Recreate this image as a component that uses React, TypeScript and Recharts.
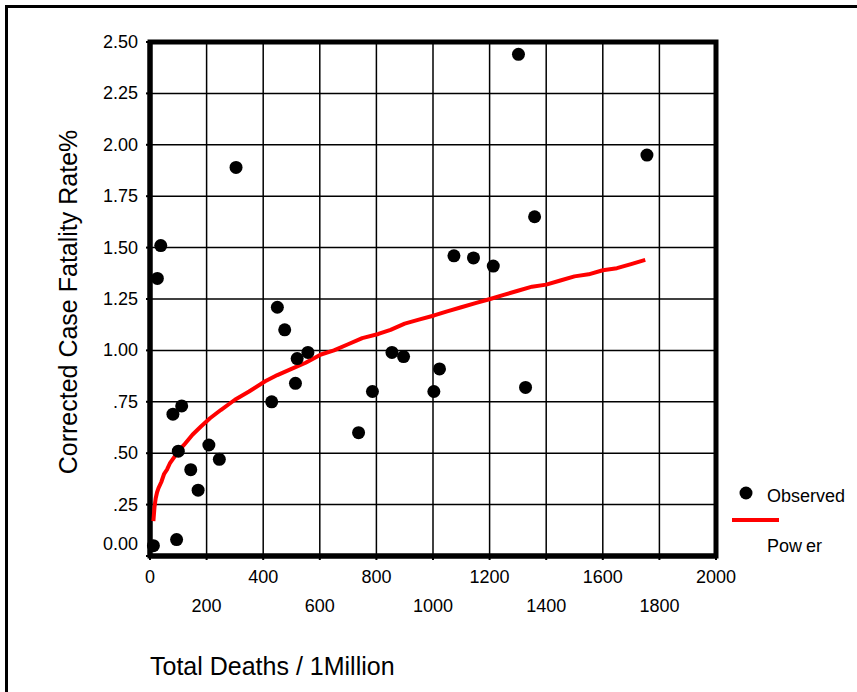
import {
  ScatterChart,
  Scatter,
  XAxis,
  YAxis,
  CartesianGrid,
  ReferenceArea,
} from "recharts";

// observed countries: deaths per million vs corrected CFR (%)
const observedDeaths = [
  12, 26, 38, 81, 94, 100, 112, 144, 170, 208, 245, 304, 430, 450, 476, 514,
  520, 558, 737, 786, 855, 896, 1003, 1023, 1074, 1143, 1213, 1302, 1327, 1359,
  1756,
];
const observedCfr = [
  0.05, 1.35, 1.51, 0.69, 0.08, 0.51, 0.73, 0.42, 0.32, 0.54, 0.47, 1.89, 0.75,
  1.21, 1.1, 0.84, 0.96, 0.99, 0.6, 0.8, 0.99, 0.97, 0.8, 0.91, 1.46, 1.45,
  1.41, 2.44, 0.82, 1.65, 1.95,
];

// power trend line
const powerDeaths = [
  12, 16, 20, 25, 30, 40, 50, 60, 70, 85, 100, 120, 150, 180, 212, 250, 300,
  350, 407, 450, 500, 550, 604, 650, 700, 750, 807, 850, 900, 950, 1004, 1050,
  1100, 1150, 1202, 1250, 1300, 1350, 1400, 1450, 1500, 1550, 1600, 1650, 1700,
  1750,
];
const powerCfr = [
  0.17, 0.24, 0.28, 0.31, 0.33, 0.36, 0.4, 0.42, 0.45, 0.48, 0.51, 0.54, 0.59,
  0.63, 0.67, 0.71, 0.76, 0.8, 0.85, 0.88, 0.91, 0.94, 0.98, 1.0, 1.03, 1.06,
  1.08, 1.1, 1.13, 1.15, 1.17, 1.19, 1.21, 1.23, 1.25, 1.27, 1.29, 1.31, 1.32,
  1.34, 1.36, 1.37, 1.39, 1.4, 1.42, 1.44,
];

const xTicks = [0, 200, 400, 600, 800, 1000, 1200, 1400, 1600, 1800, 2000];
const yTicks = [0, 0.25, 0.5, 0.75, 1, 1.25, 1.5, 1.75, 2, 2.25, 2.5];

const observed = observedDeaths.map((x, i) => ({ x, y: observedCfr[i] }));
const power = powerDeaths.map((x, i) => ({ x, y: powerCfr[i] }));

const FONT = "'Liberation Sans', Arial, sans-serif";

const fmtY = (v: number) => {
  if (v === 0) return "0.00";
  if (v < 1) return "." + Math.round(v * 100).toString().padStart(2, "0");
  return v.toFixed(2);
};

function YTick({ x, y, payload }: any) {
  const dy = payload.value === 0 ? -12 : 0;
  return (
    <text
      x={x}
      y={y + dy}
      textAnchor="end"
      dominantBaseline="central"
      fontSize={18}
      fontFamily={FONT}
      fill="#000"
    >
      {fmtY(payload.value)}
    </text>
  );
}

function XTick({ x, y, payload, index }: any) {
  const dy = index % 2 === 0 ? 15 : 44;
  return (
    <text
      x={x}
      y={y + dy}
      textAnchor="middle"
      dominantBaseline="central"
      fontSize={18}
      fontFamily={FONT}
      fill="#000"
    >
      {payload.value}
    </text>
  );
}

const Dot = (p: any) => <circle cx={p.cx} cy={p.cy} r={6.5} fill="#000" />;
const NoDot = () => <g />;

export default function App() {
  return (
    <div
      style={{
        position: "fixed",
        left: 0,
        top: 0,
        width: 857,
        height: 692,
        overflow: "hidden",
        background: "#fff",
        fontFamily: FONT,
      }}
    >
      <div
        style={{
          position: "absolute",
          left: 5,
          top: 5,
          width: 900,
          height: 800,
          borderLeft: "3px solid #000",
          borderTop: "3px solid #000",
        }}
      />
      <div style={{ position: "absolute", left: 0, top: 0 }}>
        <ScatterChart
          width={857}
          height={692}
          margin={{ top: 42, right: 141, bottom: 56, left: 70 }}
        >
          <CartesianGrid stroke="#000" strokeWidth={1.5} />
          <XAxis
            type="number"
            dataKey="x"
            domain={[0, 2000]}
            ticks={xTicks}
            interval={0}
            height={80}
            axisLine={{ stroke: "#000", strokeWidth: 5 }}
            tickLine={{ stroke: "#000", strokeWidth: 2 }}
            tickSize={4}
            tickMargin={2}
            tick={<XTick />}
          />
          <YAxis
            type="number"
            dataKey="y"
            domain={[0, 2.5]}
            ticks={yTicks}
            interval={0}
            width={80}
            axisLine={{ stroke: "#000", strokeWidth: 5 }}
            tickLine={{ stroke: "#000", strokeWidth: 2 }}
            tickSize={4}
            tickMargin={8}
            tick={<YTick />}
          />
          <ReferenceArea
            x1={0}
            x2={2000}
            y1={0}
            y2={2.5}
            fill="none"
            stroke="#000"
            strokeWidth={5}
            ifOverflow="visible"
          />
          <Scatter
            data={power}
            line={{ stroke: "#ff0000", strokeWidth: 4, strokeLinejoin: "round" }}
            lineType="joint"
            shape={NoDot}
            isAnimationActive={false}
          />
          <Scatter data={observed} fill="#000" shape={Dot} isAnimationActive={false} />
        </ScatterChart>
      </div>
      <div
        style={{
          position: "absolute",
          left: 68,
          top: 302,
          transform: "translate(-50%, -50%) rotate(-90deg)",
          whiteSpace: "nowrap",
          fontSize: 25,
          color: "#000",
        }}
      >
        Corrected Case Fatality Rate%
      </div>
      <div
        style={{
          position: "absolute",
          left: 150,
          top: 652,
          whiteSpace: "nowrap",
          fontSize: 25,
          lineHeight: "29px",
          color: "#000",
        }}
      >
        Total Deaths / 1Million
      </div>
      <svg
        width={140}
        height={90}
        style={{ position: "absolute", left: 717, top: 470 }}
      >
        <circle cx={29} cy={23} r={6.5} fill="#000" />
        <text
          x={50}
          y={26}
          dominantBaseline="central"
          fontSize={18}
          fontFamily={FONT}
        >
          Observed
        </text>
        <line x1={15} x2={62} y1={50} y2={50} stroke="#ff0000" strokeWidth={4} />
        <text
          x={50}
          y={76}
          dominantBaseline="central"
          fontSize={18}
          fontFamily={FONT}
        >
          Pow<tspan dx={4}>er</tspan>
        </text>
      </svg>
    </div>
  );
}
